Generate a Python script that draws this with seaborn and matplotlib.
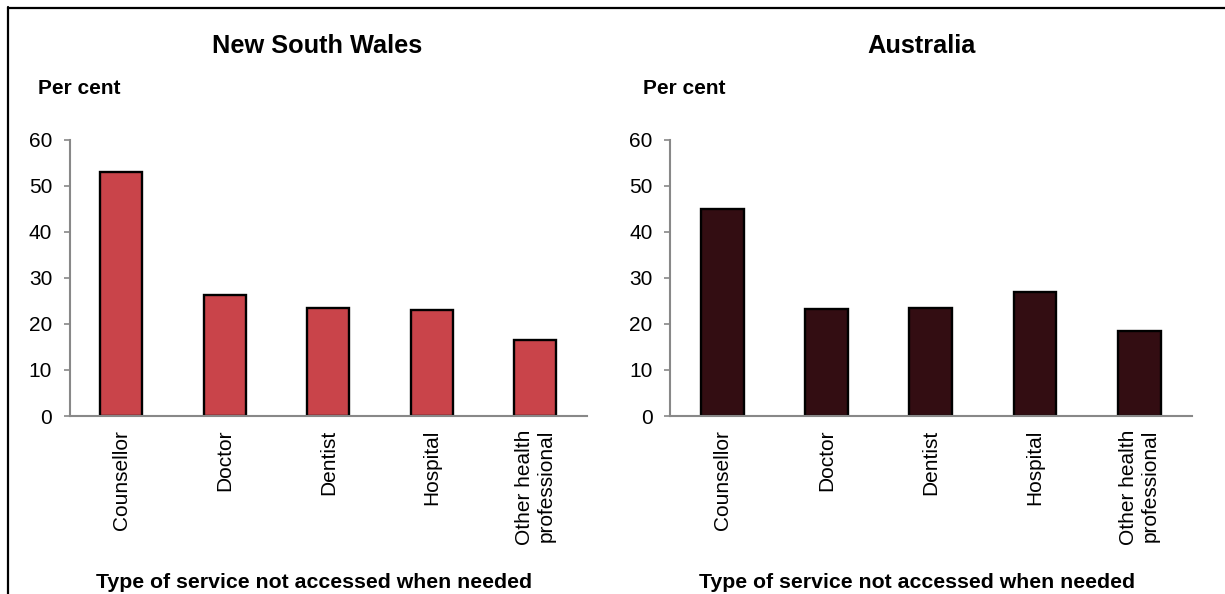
import matplotlib
matplotlib.use("Agg")
import matplotlib.pyplot as plt
from matplotlib.lines import Line2D
import seaborn as sns
import pandas as pd

categories = ["Counsellor", "Doctor", "Dentist", "Hospital", "Other health\nprofessional"]
nsw_values = [53.0, 26.3, 23.4, 22.9, 16.6]
aus_values = [44.9, 23.3, 23.5, 27.0, 18.4]
panel_titles = ["New South Wales", "Australia"]
y_ticks = [0, 10, 20, 30, 40, 50, 60]
y_label = "Per cent"
x_label = "Type of service not accessed when needed"

sns.set_theme(style="white")
plt.rcParams["font.family"] = ["Liberation Sans", "DejaVu Sans"]
plt.rcParams["text.color"] = "black"
plt.rcParams["axes.labelcolor"] = "black"
plt.rcParams["xtick.color"] = "black"
plt.rcParams["ytick.color"] = "black"

fig = plt.figure(figsize=(12.25, 5.94), dpi=100)
W, H = 1225, 594

panels = [
    dict(vals=nsw_values, color="#C9444A", ax_l=69.5, ax_r=587, title_x=317, per_x=38, xl_x=314),
    dict(vals=aus_values, color="#330D12", ax_l=670, ax_r=1191.5, title_x=921.5, per_x=643, xl_x=917),
]
ax_top, ax_bot = 139.5, 416

gray = "#888888"
for p, title in zip(panels, panel_titles):
    ax = fig.add_axes([p["ax_l"] / W, 1 - ax_bot / H, (p["ax_r"] - p["ax_l"]) / W, (ax_bot - ax_top) / H])
    df = pd.DataFrame({"cat": categories, "val": p["vals"]})
    sns.barplot(data=df, x="cat", y="val", color=p["color"], saturation=1, width=0.41,
                edgecolor="black", linewidth=1.7, ax=ax)
    ax.set_xlim(-0.5, 4.5)
    ax.set_ylim(0, 60)
    ax.set_yticks(y_ticks)
    ax.set_yticklabels([str(t) for t in y_ticks])
    ax.set_xlabel("")
    ax.set_ylabel("")
    for s in ["top", "right"]:
        ax.spines[s].set_visible(False)
    for s in ["left", "bottom"]:
        ax.spines[s].set_color(gray)
        ax.spines[s].set_linewidth(1.5)
    ax.tick_params(axis="y", direction="out", length=4.5, width=1.2, color=gray,
                   labelsize=15, pad=8, left=True, labelcolor="black")
    ax.tick_params(axis="x", length=0, labelsize=15, pad=10, labelcolor="black")
    for lbl in ax.get_xticklabels():
        lbl.set_rotation(90)
        lbl.set_ha("center")
        lbl.set_va("top")
        lbl.set_multialignment("right")
    ax.set_facecolor("none")

    fig.text(p["title_x"] / W, 1 - 46 / H, title, ha="center", va="center",
             fontsize=18.3, fontweight="bold", color="black")
    fig.text(p["per_x"] / W, 1 - 89 / H, y_label, ha="left", va="center",
             fontsize=15, fontweight="bold", color="black")
    fig.text(p["xl_x"] / W, 1 - 582 / H, x_label, ha="center", va="center",
             fontsize=15.3, fontweight="bold", color="black")

# frame lines (top and left)
fig.add_artist(Line2D([7.5 / W, 1.0], [1 - 7.5 / H, 1 - 7.5 / H], transform=fig.transFigure,
                      color="black", linewidth=1.6))
fig.add_artist(Line2D([7.5 / W, 7.5 / W], [0.0, 1 - 6.5 / H], transform=fig.transFigure,
                      color="black", linewidth=1.6))

fig.savefig("out.png", dpi=100, facecolor="white")
